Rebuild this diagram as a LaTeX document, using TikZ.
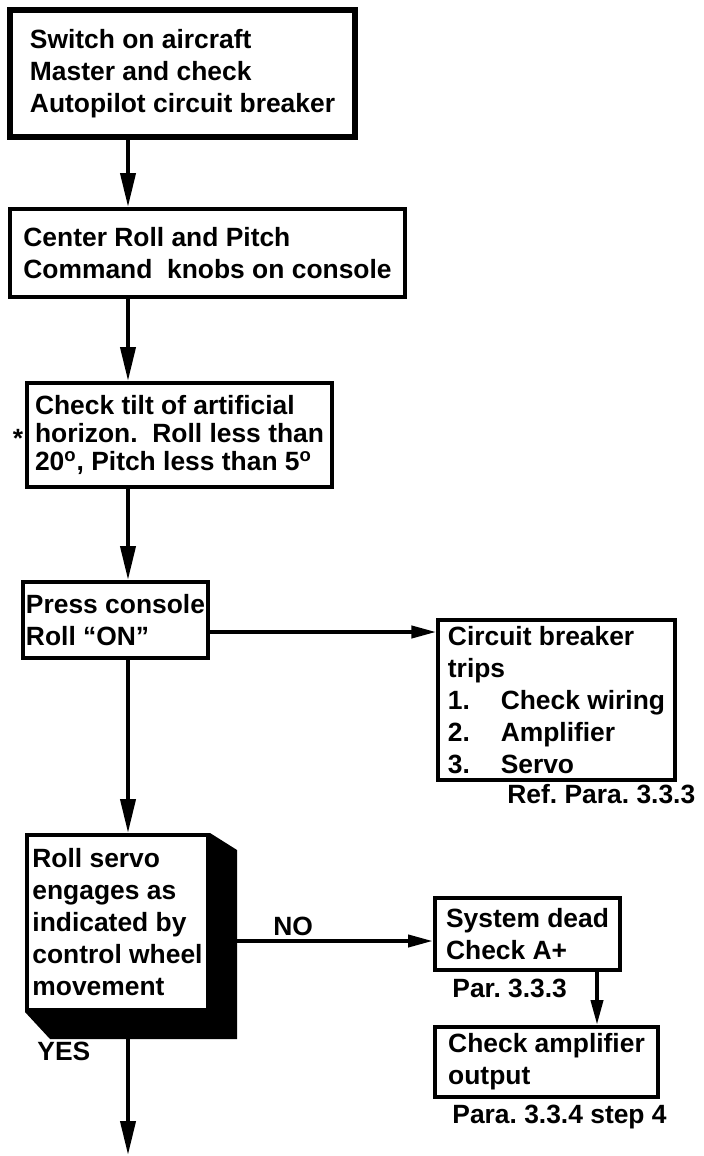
\documentclass[tikz,border=0pt]{standalone}
\usepackage{fontspec}
\setmainfont{Liberation Sans}
\usetikzlibrary{arrows.meta,positioning,calc}
\frenchspacing
\tikzset{
  box/.style={rectangle, draw=black, line width=2pt, fill=white,
    align=left, font=\bfseries\fontsize{13.2}{16}\selectfont, inner sep=0pt},
  tightbox/.style={box, font=\bfseries\fontsize{13.2}{14}\selectfont},
  note/.style={font=\bfseries\fontsize{13.2}{16}\selectfont, inner sep=0pt,
    anchor=base west},
  flow/.style={-{Triangle[length=17pt,width=7.5pt]}, line width=2pt},
  flowh/.style={-{Triangle[length=12.5pt,width=6pt]}, line width=2pt},
}

\begin{document}
\begin{tikzpicture}[x=0.5pt, y=-0.5pt]
\useasboundingbox (0,0) rectangle (703,1156);
% main column
\node[box, line width=2.6pt, minimum width=172.5pt, minimum height=63.5pt] (master) at (182.5,73.5)
  {Switch on aircraft\\ Master and check\\ Autopilot circuit breaker};
\node[box, minimum width=197.5pt, minimum height=44pt] (center) at (207.5,253)
  {Center Roll and Pitch\\ Command\ \ knobs on console};
\node[tightbox, minimum width=152.5pt, minimum height=52pt] (tilt) at (179.5,435)
  {Check tilt of artificial\\ horizon.\ \ Roll less than\\ 20\textsuperscript{o}, Pitch less than 5\textsuperscript{o}};
\node[note, anchor=center] (star) at (18,438) {*};
\node[box, minimum width=92.5pt, minimum height=38pt] (press) at (115.5,620)
  {Press console\\ Roll “ON”};
\node[box, minimum width=90.5pt, minimum height=87.5pt] (servo) at (117.5,922.5)
  {Roll servo\\ engages as\\ indicated by\\ control wheel\\ movement};
% raised edge of the servo box
\coordinate (sc) at ([shift={(27,27)}]servo.south east);
\fill (servo.north east) -- ([shift={(27,17)}]servo.north east) -- (sc)
  -- ([shift={(25,27)}]servo.south west) -- (servo.south west)
  -- (servo.south east) -- cycle;
% side branches
\node[box, line width=1.6pt, minimum width=118.5pt, minimum height=80pt] (trips) at (556.5,700)
  {Circuit breaker\\ trips\\ \makebox[2em][l]{1.}Check wiring\\
   \makebox[2em][l]{2.}Amplifier\\ \makebox[2em][l]{3.}Servo};
\node[note] (ref) at (507,803) {Ref. Para. 3.3.3};
\node[box, minimum width=92.5pt, minimum height=36pt] (dead) at (527.5,934)
  {System dead\\ Check A+};
\node[note] (par) at (452,997) {Par. 3.3.3};
\node[box, minimum width=111.5pt, minimum height=35pt] (amp) at (546.5,1062)
  {Check amplifier\\ output};
\node[note] (para) at (452,1123) {Para. 3.3.4 step 4};
\node[note] (no) at (273,935) {NO};
\node[note] (yes) at (37,1060) {YES};
% connectors
\coordinate (spine) at (128,0);
\coordinate (exit) at (128,1155);
\coordinate (drop) at (597,0);
\coordinate (onout) at ([yshift=-6pt]press.east);
\coordinate (noin) at ([yshift=-3.5pt]dead.west);
\draw[flow] (master.south -| spine) -- (center.north -| spine);
\draw[flow] (center.south -| spine) -- (tilt.north -| spine);
\draw[flow] (tilt.south -| spine) -- (press.north -| spine);
\draw[flow] (press.south -| spine) -- (servo.north -| spine);
\draw[flow] (sc -| spine) -- (exit);
\draw[flowh] (onout) -- (onout -| trips.west);
\draw[flowh] (noin -| sc) -- (noin);
\draw[flowh] (dead.south -| drop) -- (amp.north -| drop);
\end{tikzpicture}
\end{document}
